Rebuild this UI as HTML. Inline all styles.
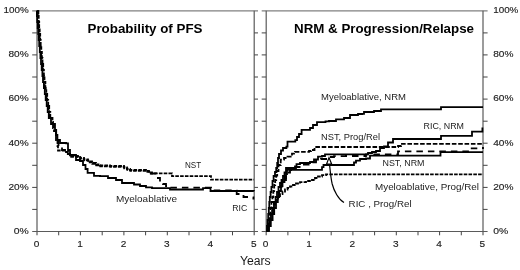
<!DOCTYPE html>
<html><head><meta charset="utf-8"><title>PFS / NRM chart</title>
<style>html,body{margin:0;padding:0;background:#fff;}svg{display:block;will-change:transform;opacity:0.999;}text{font-family:"Liberation Sans",sans-serif;fill:#222;}</style></head><body>
<svg width="520" height="270" viewBox="0 0 520 270">
<rect x="0" y="0" width="520" height="270" fill="#ffffff"/>
<g stroke-width="1.2" fill="none">
<line x1="32.2" y1="10.8" x2="258.0" y2="10.8" stroke="#808080"/>
<line x1="32.2" y1="231.5" x2="258.0" y2="231.5" stroke="#5a5a5a"/>
<line x1="37.0" y1="10.8" x2="37.0" y2="235.3" stroke="#5a5a5a"/>
<line x1="254.2" y1="10.8" x2="254.2" y2="235.3" stroke="#5a5a5a"/>
</g>
<g stroke="#444" stroke-width="1" fill="none">
<line x1="32.2" y1="209.4" x2="37.0" y2="209.4"/>
<line x1="254.2" y1="209.4" x2="258.0" y2="209.4"/>
<line x1="32.2" y1="187.4" x2="37.0" y2="187.4"/>
<line x1="254.2" y1="187.4" x2="258.0" y2="187.4"/>
<line x1="32.2" y1="165.3" x2="37.0" y2="165.3"/>
<line x1="254.2" y1="165.3" x2="258.0" y2="165.3"/>
<line x1="32.2" y1="143.2" x2="37.0" y2="143.2"/>
<line x1="254.2" y1="143.2" x2="258.0" y2="143.2"/>
<line x1="32.2" y1="121.2" x2="37.0" y2="121.2"/>
<line x1="254.2" y1="121.2" x2="258.0" y2="121.2"/>
<line x1="32.2" y1="99.1" x2="37.0" y2="99.1"/>
<line x1="254.2" y1="99.1" x2="258.0" y2="99.1"/>
<line x1="32.2" y1="77.0" x2="37.0" y2="77.0"/>
<line x1="254.2" y1="77.0" x2="258.0" y2="77.0"/>
<line x1="32.2" y1="54.9" x2="37.0" y2="54.9"/>
<line x1="254.2" y1="54.9" x2="258.0" y2="54.9"/>
<line x1="32.2" y1="32.9" x2="37.0" y2="32.9"/>
<line x1="254.2" y1="32.9" x2="258.0" y2="32.9"/>
<line x1="58.7" y1="231.5" x2="58.7" y2="235.3"/>
<line x1="80.4" y1="231.5" x2="80.4" y2="235.3"/>
<line x1="102.2" y1="231.5" x2="102.2" y2="235.3"/>
<line x1="123.9" y1="231.5" x2="123.9" y2="235.3"/>
<line x1="145.6" y1="231.5" x2="145.6" y2="235.3"/>
<line x1="167.3" y1="231.5" x2="167.3" y2="235.3"/>
<line x1="189.0" y1="231.5" x2="189.0" y2="235.3"/>
<line x1="210.8" y1="231.5" x2="210.8" y2="235.3"/>
<line x1="232.5" y1="231.5" x2="232.5" y2="235.3"/>
</g>
<g stroke-width="1.2" fill="none">
<line x1="261.7" y1="10.8" x2="487.6" y2="10.8" stroke="#808080"/>
<line x1="261.7" y1="231.5" x2="487.6" y2="231.5" stroke="#5a5a5a"/>
<line x1="266.2" y1="10.8" x2="266.2" y2="235.3" stroke="#5a5a5a"/>
<line x1="483.0" y1="10.8" x2="483.0" y2="235.3" stroke="#5a5a5a"/>
</g>
<g stroke="#444" stroke-width="1" fill="none">
<line x1="261.7" y1="209.4" x2="266.2" y2="209.4"/>
<line x1="483.0" y1="209.4" x2="487.6" y2="209.4"/>
<line x1="261.7" y1="187.4" x2="266.2" y2="187.4"/>
<line x1="483.0" y1="187.4" x2="487.6" y2="187.4"/>
<line x1="261.7" y1="165.3" x2="266.2" y2="165.3"/>
<line x1="483.0" y1="165.3" x2="487.6" y2="165.3"/>
<line x1="261.7" y1="143.2" x2="266.2" y2="143.2"/>
<line x1="483.0" y1="143.2" x2="487.6" y2="143.2"/>
<line x1="261.7" y1="121.2" x2="266.2" y2="121.2"/>
<line x1="483.0" y1="121.2" x2="487.6" y2="121.2"/>
<line x1="261.7" y1="99.1" x2="266.2" y2="99.1"/>
<line x1="483.0" y1="99.1" x2="487.6" y2="99.1"/>
<line x1="261.7" y1="77.0" x2="266.2" y2="77.0"/>
<line x1="483.0" y1="77.0" x2="487.6" y2="77.0"/>
<line x1="261.7" y1="54.9" x2="266.2" y2="54.9"/>
<line x1="483.0" y1="54.9" x2="487.6" y2="54.9"/>
<line x1="261.7" y1="32.9" x2="266.2" y2="32.9"/>
<line x1="483.0" y1="32.9" x2="487.6" y2="32.9"/>
<line x1="287.9" y1="231.5" x2="287.9" y2="235.3"/>
<line x1="309.6" y1="231.5" x2="309.6" y2="235.3"/>
<line x1="331.2" y1="231.5" x2="331.2" y2="235.3"/>
<line x1="352.9" y1="231.5" x2="352.9" y2="235.3"/>
<line x1="374.6" y1="231.5" x2="374.6" y2="235.3"/>
<line x1="396.3" y1="231.5" x2="396.3" y2="235.3"/>
<line x1="418.0" y1="231.5" x2="418.0" y2="235.3"/>
<line x1="439.6" y1="231.5" x2="439.6" y2="235.3"/>
<line x1="461.3" y1="231.5" x2="461.3" y2="235.3"/>
</g>
<g font-size="9.9px" stroke="#222" stroke-width="0.15">
<text x="13.7" y="233.8" textLength="15.0" lengthAdjust="spacingAndGlyphs">0%</text>
<text x="493.2" y="233.8" textLength="15.0" lengthAdjust="spacingAndGlyphs">0%</text>
<text x="8.5" y="189.7" textLength="20.2" lengthAdjust="spacingAndGlyphs">20%</text>
<text x="493.2" y="189.7" textLength="20.2" lengthAdjust="spacingAndGlyphs">20%</text>
<text x="8.5" y="145.5" textLength="20.2" lengthAdjust="spacingAndGlyphs">40%</text>
<text x="493.2" y="145.5" textLength="20.2" lengthAdjust="spacingAndGlyphs">40%</text>
<text x="8.5" y="101.4" textLength="20.2" lengthAdjust="spacingAndGlyphs">60%</text>
<text x="493.2" y="101.4" textLength="20.2" lengthAdjust="spacingAndGlyphs">60%</text>
<text x="8.5" y="57.2" textLength="20.2" lengthAdjust="spacingAndGlyphs">80%</text>
<text x="493.2" y="57.2" textLength="20.2" lengthAdjust="spacingAndGlyphs">80%</text>
<text x="3.5" y="13.1" textLength="25.2" lengthAdjust="spacingAndGlyphs">100%</text>
<text x="493.2" y="13.1" textLength="25.2" lengthAdjust="spacingAndGlyphs">100%</text>
</g>
<g font-size="9.9px" stroke="#222" stroke-width="0.15">
<text x="33.8" y="246.6" textLength="5.6" lengthAdjust="spacingAndGlyphs">0</text>
<text x="262.8" y="246.6" textLength="5.6" lengthAdjust="spacingAndGlyphs">0</text>
<text x="77.2" y="246.6" textLength="5.6" lengthAdjust="spacingAndGlyphs">1</text>
<text x="306.2" y="246.6" textLength="5.6" lengthAdjust="spacingAndGlyphs">1</text>
<text x="120.7" y="246.6" textLength="5.6" lengthAdjust="spacingAndGlyphs">2</text>
<text x="349.5" y="246.6" textLength="5.6" lengthAdjust="spacingAndGlyphs">2</text>
<text x="164.1" y="246.6" textLength="5.6" lengthAdjust="spacingAndGlyphs">3</text>
<text x="392.9" y="246.6" textLength="5.6" lengthAdjust="spacingAndGlyphs">3</text>
<text x="207.6" y="246.6" textLength="5.6" lengthAdjust="spacingAndGlyphs">4</text>
<text x="436.2" y="246.6" textLength="5.6" lengthAdjust="spacingAndGlyphs">4</text>
<text x="251.0" y="246.6" textLength="5.6" lengthAdjust="spacingAndGlyphs">5</text>
<text x="479.6" y="246.6" textLength="5.6" lengthAdjust="spacingAndGlyphs">5</text>
</g>
<text x="240" y="264.7" font-size="12px" style="fill:#1a1a1a" textLength="30.7" lengthAdjust="spacingAndGlyphs">Years</text>
<text x="87.5" y="33" font-size="12.5px" font-weight="bold" style="fill:#000" textLength="115" lengthAdjust="spacingAndGlyphs">Probability of PFS</text>
<text x="294" y="33" font-size="12.5px" font-weight="bold" style="fill:#000" textLength="180" lengthAdjust="spacingAndGlyphs">NRM &amp; Progression/Relapse</text>
<text x="185.0" y="168.3" font-size="8.4px" textLength="16.2" lengthAdjust="spacingAndGlyphs">NST</text>
<text x="116.0" y="201.5" font-size="8.4px" textLength="61.0" lengthAdjust="spacingAndGlyphs">Myeloablative</text>
<text x="232.2" y="211.4" font-size="8.4px" textLength="15.0" lengthAdjust="spacingAndGlyphs">RIC</text>
<text x="321.0" y="100.0" font-size="8.4px" textLength="85.0" lengthAdjust="spacingAndGlyphs">Myeloablative, NRM</text>
<text x="321.0" y="139.9" font-size="8.4px" textLength="59.0" lengthAdjust="spacingAndGlyphs">NST, Prog/Rel</text>
<text x="423.6" y="128.9" font-size="8.4px" textLength="40.4" lengthAdjust="spacingAndGlyphs">RIC, NRM</text>
<text x="382.5" y="166.1" font-size="8.4px" textLength="42.0" lengthAdjust="spacingAndGlyphs">NST, NRM</text>
<text x="375.0" y="189.9" font-size="8.4px" textLength="104.0" lengthAdjust="spacingAndGlyphs">Myeloablative, Prog/Rel</text>
<text x="348.6" y="206.9" font-size="8.4px" textLength="63.0" lengthAdjust="spacingAndGlyphs">RIC , Prog/Rel</text>
<defs><clipPath id="cl"><rect x="36.0" y="9.8" width="219.2" height="222.0"/></clipPath><clipPath id="cr"><rect x="265.2" y="9.8" width="218.8" height="222.0"/></clipPath></defs>
<g fill="none" stroke="#000" stroke-width="1.80" stroke-linejoin="miter" clip-path="url(#cl)">
<path d="M36.6,11.0 H36.9 V16.0 H37.2 V22.0 H37.7 V28.0 H38.2 V34.0 H38.7 V40.0 H39.2 V46.0 H39.8 V52.0 H40.4 V58.0 H41.0 V64.0 H41.7 V70.0 H42.4 V76.0 H43.0 V82.0 H43.9 V88.0 H44.8 V94.0 H45.7 V100.0 H46.7 V106.0 H47.7 V112.0 H48.8 V118.0 H51.0 V124.0 H55.0 V130.0 H56.2 V135.0 H57.4 V140.0 H60.0 V143.0 H66.2 V143.4 H68.0 V150.0 H70.0 V155.0 H76.0 V160.0 H80.0 V161.0 H83.0 V165.0 H85.5 V169.0 H87.6 V172.8 H94.0 V175.8 H100.0 V176.2 H108.0 V178.0 H116.0 V180.0 H122.0 V183.0 H134.0 V184.5 H140.0 V186.0 H146.0 V187.4 H152.0 V188.2 H170.0 V189.5 H203.0 V189.5 H203.0 V188.2 H208.0 V188.2 H210.5 V191.0 H253.8 V191.3"/>
<path d="M38.1,11.0 H38.4 V16.0 H38.7 V22.0 H39.2 V28.0 H39.7 V34.0 H40.2 V40.0 H40.7 V46.0 H41.3 V52.0 H41.9 V58.0 H42.5 V64.0 H43.2 V70.0 H43.9 V76.0 H44.5 V82.0 H45.4 V88.0 H46.3 V94.0 H47.2 V100.0 H48.2 V106.0 H49.2 V112.0 H50.3 V118.0 H52.5 V124.0 H54.0 V131.0 H56.0 V140.0 H57.5 V146.0 H58.0 V150.5 H66.0 V152.0 H68.0 V154.0 H70.0 V156.0 H78.0 V156.2 H80.0 V158.0 H84.0 V159.5 H88.0 V161.5 H92.0 V163.0 H96.0 V164.5 H100.0 V165.5 H110.0 V166.0 H120.0 V166.0 H124.0 V167.5 H127.0 V169.0 H130.0 V170.0 H146.0 V171.0 H149.0 V172.5 H152.0 V173.4 H170.0 V173.4 H172.0 V176.2 H209.0 V176.2 H211.0 V179.7 H253.8 V179.7" stroke-dasharray="3.6 1.2"/>
<path d="M37.4,11.0 H37.7 V16.0 H38.0 V22.0 H38.5 V28.0 H39.0 V34.0 H39.5 V40.0 H40.0 V46.0 H40.6 V52.0 H41.2 V58.0 H41.8 V64.0 H42.5 V70.0 H43.2 V76.0 H43.8 V82.0 H44.7 V88.0 H45.6 V94.0 H46.5 V100.0 H47.5 V106.0 H48.5 V112.0 H49.6 V118.0 H51.5 V122.0 H53.0 V128.0 H56.0 V137.0 H58.5 V146.0 H62.0 V150.0 H66.0 V154.0 H70.0 V156.2" stroke-dasharray="6.5 5"/>
<path d="M150.0,173.5 H156.0 V173.6 H157.0 V178.0 H160.0 V182.0 H163.0 V184.0 H166.0 V186.0 H170.0 V187.6 H209.0 V187.6 H211.0 V190.3 H236.0 V190.6 H236.7 V194.0 H242.7 V194.0 H243.5 V197.0 H251.0 V197.3 H253.4 V199.5" stroke-dasharray="6.5 5"/>
<path d="M70.3,156.9 H78.3 V157.1 H80.3 V158.9 H84.3 V160.4 H88.3 V162.4 H92.3 V163.9 H96.3 V165.4 H100.3 V166.4 H110.3 V166.9 H120.3 V166.9 H124.3 V168.4 H127.3 V169.9 H130.3 V170.9 H146.3 V171.9 H149.3 V173.4 H152.3 V174.3" stroke-dasharray="3.6 1.2"/>
</g>
<g fill="none" stroke="#000" stroke-width="1.80" stroke-linejoin="miter" clip-path="url(#cr)">
<path d="M266.5,231.5 H267.0 V226.0 H267.6 V220.0 H268.2 V214.0 H268.8 V208.0 H269.3 V202.0 H269.8 V197.0 H270.6 V192.0 H271.4 V187.0 H272.5 V181.0 H273.6 V176.0 H275.0 V172.0 H276.2 V168.0 H277.2 V163.0 H278.0 V158.0 H279.0 V154.0 H281.0 V150.5 H283.0 V148.0 H286.4 V146.7 H287.5 V141.6 H295.3 V140.2 H297.0 V137.0 H299.0 V134.0 H301.6 V129.8 H310.0 V128.0 H313.0 V125.0 H317.0 V122.2 H325.5 V121.3 H329.0 V121.0 H336.0 V119.4 H344.0 V118.0 H350.0 V115.0 H358.0 V114.0 H362.0 V113.8 H364.0 V112.0 H374.0 V111.0 H381.0 V109.4 H439.0 V109.4 H441.0 V107.1 H483.0 V107.1"/>
<path d="M266.5,231.5 H268.2 V226.0 H269.6 V220.0 H271.0 V214.0 H272.4 V208.0 H274.0 V202.0 H275.6 V197.0 H277.0 V192.0 H278.5 V187.0 H280.0 V183.0 H281.5 V180.0 H283.0 V176.0 H284.5 V172.5 H286.0 V168.0 H295.0 V166.5 H296.5 V164.2 H300.0 V163.0 H310.0 V162.0 H314.0 V159.5 H318.0 V156.6 H322.0 V156.0 H325.0 V154.3 H364.0 V154.3 H368.0 V153.0 H372.0 V152.0 H376.0 V151.0 H380.0 V148.0 H384.0 V146.5 H388.0 V142.5 H393.0 V139.0 H439.0 V139.0 H441.0 V135.8 H471.0 V135.8 H472.0 V131.7 H481.0 V131.7 H482.4 V127.5"/>
<path d="M266.5,231.5 H269.0 V226.0 H270.8 V220.0 H272.6 V214.0 H274.2 V208.0 H276.0 V202.0 H277.8 V197.0 H279.2 V191.0 H281.0 V186.0 H282.5 V182.0 H284.5 V178.0 H286.0 V174.0 H287.0 V169.8 H321.0 V169.8 H322.0 V167.2 H323.5 V165.0 H352.0 V165.0 H354.0 V162.5 H356.0 V160.6 H360.0 V159.0 H366.0 V158.5 H370.0 V155.6 H439.0 V155.6 H440.5 V152.2 H483.0 V152.2"/>
<path d="M266.5,231.5 H267.6 V226.0 H268.6 V220.0 H269.5 V214.0 H270.4 V208.0 H271.4 V202.0 H272.4 V197.0 H273.3 V191.0 H274.2 V185.0 H275.2 V180.0 H276.2 V175.5 H277.2 V171.0 H278.5 V165.0 H280.7 V159.7 H284.0 V158.0 H287.5 V156.7 H292.0 V153.7 H295.0 V151.8 H309.0 V151.0 H311.0 V150.0 H314.5 V147.0 H396.0 V147.0 H398.0 V146.0 H401.0 V143.8 H483.0 V143.8" stroke-dasharray="4.6 1.75"/>
<path d="M266.5,231.5 H267.8 V226.0 H269.2 V220.0 H270.6 V214.0 H272.2 V208.0 H274.0 V202.0 H276.0 V198.5 H278.0 V196.0 H280.0 V194.0 H282.5 V191.5 H285.0 V189.5 H287.5 V188.0 H290.0 V186.5 H293.0 V185.0 H296.0 V183.5 H300.0 V182.2 H306.0 V181.0 H312.0 V180.0 H315.0 V178.0 H318.0 V176.5 H322.0 V175.2 H326.0 V174.3 H483.0 V174.3" stroke-dasharray="3.6 1.2"/>
<path d="M266.5,231.5 H268.6 V226.0 H270.2 V220.0 H271.8 V214.0 H273.4 V208.0 H275.0 V202.0 H276.8 V197.0 H278.4 V192.0 H280.0 V187.0 H281.5 V181.5 H284.5 V180.0 H286.0 V176.0 H286.7 V172.5 H290.0 V170.0 H296.0 V167.0 H302.0 V164.5 H310.0 V162.4 H316.0 V160.5 H321.0 V159.0 H327.0 V159.0 H329.0 V157.0 H334.0 V156.2 H346.0 V156.0 H366.0 V154.4 H396.0 V154.4 H398.0 V151.4 H468.0 V151.4 H470.0 V148.3 H480.0 V148.0 H483.0 V147.0" stroke-dasharray="6.5 5"/>
</g>
<g fill="none" stroke="#000" stroke-width="1.2">
<path d="M344,202.6 C338.5,199.5 334,191 332.2,184 C330.8,178 330.2,171 329.5,164"/>
<path d="M329,157.6 L326.6,164 L331.6,164 Z" fill="#fff"/>
</g>
</svg></body></html>
